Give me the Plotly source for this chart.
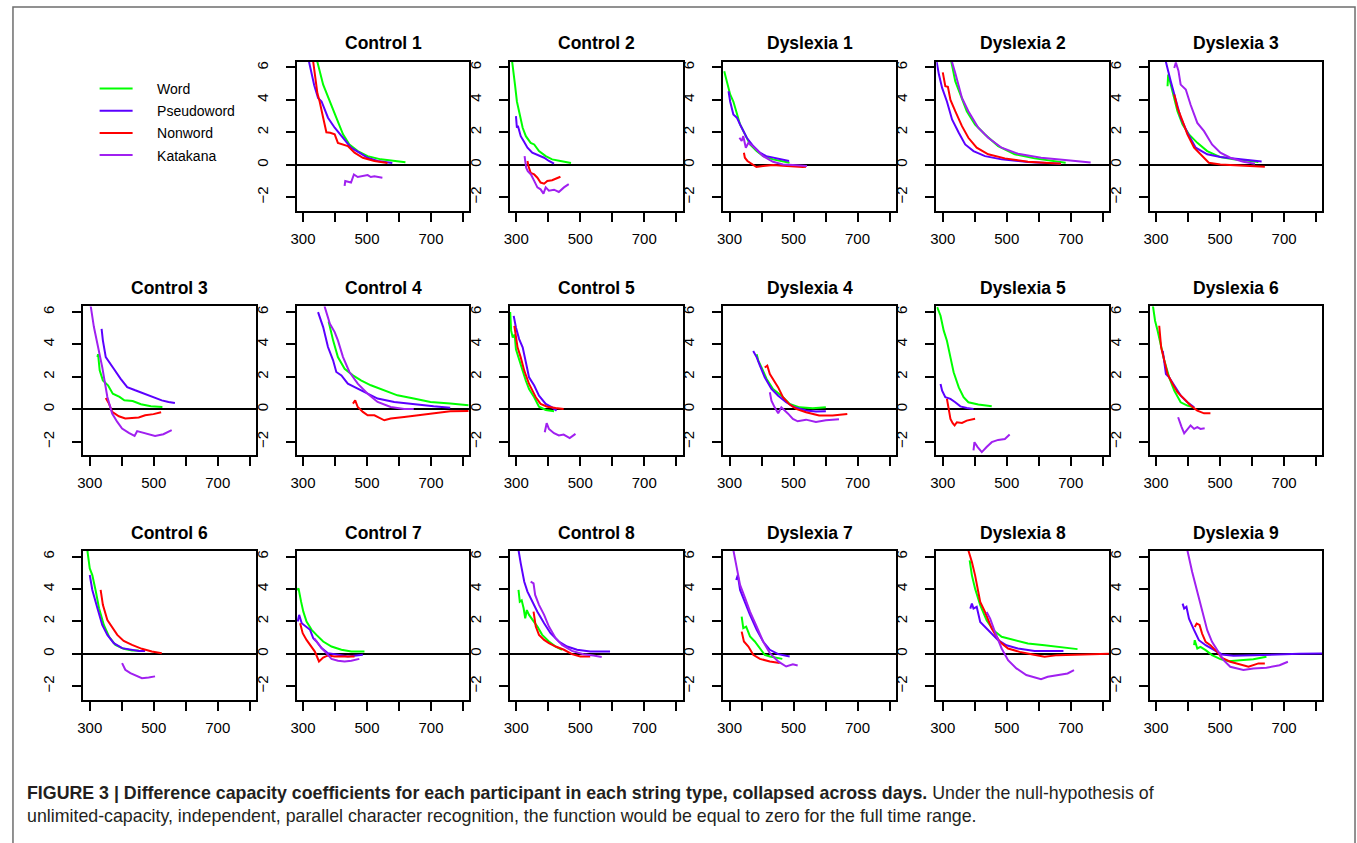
import plotly.graph_objects as go

# ---------------- data ----------------
SERIES = ["Word", "Pseudoword", "Nonword", "Katakana"]
COLORS = {"Word": "#00FF00", "Pseudoword": "#5B00FF", "Nonword": "#FF0000", "Katakana": "#A020F0"}

X_TICKS = [300, 400, 500, 600, 700, 800]
X_TICK_TEXT = ["300", "", "500", "", "700", ""]
Y_TICKS = [-2, 0, 2, 4, 6]
Y_TICK_TEXT = ["\u22122", "0", "2", "4", "6"]

TITLES = ["Control 1", "Control 2", "Dyslexia 1", "Dyslexia 2", "Dyslexia 3",
          "Control 3", "Control 4", "Control 5", "Dyslexia 4", "Dyslexia 5", "Dyslexia 6",
          "Control 6", "Control 7", "Control 8", "Dyslexia 7", "Dyslexia 8", "Dyslexia 9"]
# grid cell (row, col) of every panel
CELLS = [(0, 1), (0, 2), (0, 3), (0, 4), (0, 5),
         (1, 0), (1, 1), (1, 2), (1, 3), (1, 4), (1, 5),
         (2, 0), (2, 1), (2, 2), (2, 3), (2, 4), (2, 5)]

control_1 = {
    "Word": ([340, 345, 363, 383, 404, 425, 445, 471, 502, 543, 585, 620],
             [6.6, 6.33, 4.94, 3.9, 2.9, 1.87, 1.25, 0.84, 0.53, 0.33, 0.23, 0.15]),
    "Pseudoword": ([314, 319, 335, 347, 358, 378, 399, 425, 450, 476, 502, 533, 579],
                   [6.7, 6.33, 4.9, 4.12, 3.9, 2.9, 2.28, 1.66, 1.05, 0.74, 0.43, 0.23, 0.1]),
    "Nonword": ([328, 332, 345, 352, 363, 373, 385, 399, 409, 425, 440, 461, 487, 523, 564],
                [6.7, 6.33, 4.4, 3.9, 2.9, 2.0, 1.97, 1.87, 1.35, 1.25, 1.15, 0.74, 0.43, 0.23, 0.1]),
    "Katakana": ([430, 432, 450, 459, 471, 487, 502, 512, 523, 548],
                 [-1.31, -1.0, -1.1, -0.6, -0.76, -0.7, -0.64, -0.76, -0.72, -0.8]),
}
control_2 = {
    "Word": ([285, 287, 296, 302, 312, 320, 330, 345, 356, 371, 392, 412, 438, 471],
             [6.7, 6.3, 4.94, 3.9, 2.9, 2.28, 1.76, 1.35, 1.25, 0.84, 0.53, 0.33, 0.23, 0.1]),
    "Pseudoword": ([299, 302, 305, 314, 323, 335, 350, 366, 387, 402, 418],
                   [3.0, 2.28, 2.4, 1.76, 1.46, 1.05, 0.74, 0.6, 0.43, 0.23, 0.06]),
    "Nonword": ([335, 338, 345, 356, 366, 376, 387, 397, 412, 423, 438],
                [0.23, -0.08, -0.5, -0.6, -0.8, -1.1, -1.17, -1.0, -0.96, -0.86, -0.74]),
    "Katakana": ([326, 331, 336, 346, 356, 366, 376, 385, 392, 402, 418, 433, 449, 464],
                 [0.53, -0.18, -0.4, -0.6, -1.0, -1.4, -1.52, -1.78, -1.4, -1.6, -1.54, -1.68, -1.4, -1.2]),
}
dyslexia_1 = {
    "Word": ([283.5, 292, 302, 312, 323, 333, 348.5, 364, 384.5, 405, 436, 467, 487.6],
             [5.76, 5.15, 4.33, 3.9, 3.1, 2.48, 1.87, 1.25, 0.84, 0.53, 0.33, 0.18, 0.12]),
    "Pseudoword": ([297, 302, 312, 323, 333, 354, 374, 395, 415, 436, 457, 486],
                   [4.53, 3.9, 3.1, 2.9, 2.48, 1.66, 1.15, 0.74, 0.53, 0.43, 0.33, 0.23]),
    "Nonword": ([345, 348, 356, 369, 384, 405, 436, 467, 498, 529, 539],
                [0.74, 0.43, 0.23, 0.06, -0.14, -0.08, -0.02, -0.06, -0.12, -0.14, -0.12]),
    "Katakana": ([331, 338, 343, 351, 359, 369, 384, 405, 436, 467, 498, 529, 542],
                 [1.66, 1.46, 1.76, 1.05, 1.35, 1.21, 0.94, 0.53, 0.18, 0.02, -0.02, -0.08, -0.08]),
}
dyslexia_2 = {
    "Word": ([324, 327, 339, 355, 375, 401, 432, 473, 525, 587, 638, 684],
             [6.7, 6.33, 5.15, 4.33, 3.3, 2.48, 1.87, 1.15, 0.64, 0.39, 0.27, 0.12]),
    "Pseudoword": ([280, 281, 288, 298, 313, 329, 350, 370, 396, 432, 484, 566, 669],
                   [6.7, 6.33, 5.56, 4.74, 3.9, 2.79, 1.97, 1.25, 0.84, 0.53, 0.33, 0.16, 0.06]),
    "Nonword": ([300, 308, 316, 324, 339, 360, 380, 406, 442, 494, 566, 638, 669],
                [5.7, 4.84, 4.8, 4.0, 3.3, 2.38, 1.66, 1.05, 0.64, 0.39, 0.18, 0.1, 0.06]),
    "Katakana": ([327, 329, 339, 360, 380, 411, 442, 484, 535, 607, 690, 762],
                 [6.7, 6.33, 5.66, 4.12, 3.3, 2.28, 1.66, 1.05, 0.68, 0.43, 0.27, 0.14]),
}
dyslexia_3 = {
    "Word": ([336, 338, 346, 357, 367, 383, 403, 429, 460, 501, 542, 594, 620],
             [4.84, 5.56, 4.94, 4.12, 3.3, 2.48, 1.87, 1.35, 0.84, 0.47, 0.33, 0.23, 0.16]),
    "Pseudoword": ([329, 331, 346, 362, 377, 398, 424, 460, 501, 542, 594, 630],
                   [6.7, 6.33, 5.15, 3.9, 2.9, 1.97, 1.05, 0.64, 0.47, 0.39, 0.27, 0.2]),
    "Nonword": ([357, 367, 383, 398, 419, 444, 465, 501, 542, 594, 640],
                [4.33, 3.5, 2.69, 1.87, 1.05, 0.53, 0.12, 0.02, -0.02, -0.08, -0.12]),
    "Katakana": ([357, 362, 370, 377, 393, 408, 429, 450, 475, 501, 532, 573, 609],
                 [5.97, 6.3, 5.8, 4.94, 4.64, 3.7, 2.58, 2.07, 1.25, 0.74, 0.43, 0.18, 0.06]),
}
control_3 = {
    "Word": ([324, 326, 331, 341, 357, 372, 393, 408, 434, 460, 491, 527],
             [3.22, 3.4, 2.4, 1.78, 1.48, 0.96, 0.76, 0.55, 0.51, 0.31, 0.18, 0.14]),
    "Pseudoword": ([337, 341, 350, 360, 375, 396, 417, 442, 473, 499, 525, 546, 566],
                   [4.96, 4.25, 3.22, 2.9, 2.5, 1.89, 1.37, 1.17, 0.92, 0.72, 0.55, 0.45, 0.39]),
    "Nonword": ([350, 360, 370, 380, 391, 411, 432, 453, 473, 499, 523],
                [0.7, 0.35, -0.16, -0.3, -0.43, -0.57, -0.53, -0.51, -0.37, -0.3, -0.18]),
    "Katakana": ([301, 303, 313, 327, 339, 355, 370, 386, 401, 422, 440, 448, 473, 504, 530, 556],
                 [6.7, 6.36, 5.07, 3.84, 2.6, 0.76, -0.27, -0.78, -1.19, -1.46, -1.64, -1.35, -1.46, -1.64, -1.54, -1.29]),
}
control_4 = {
    "Word": ([380, 394, 409, 430, 456, 481, 512, 554, 595, 646, 698, 760, 817],
             [5.42, 4.25, 3.22, 2.5, 2.09, 1.78, 1.48, 1.17, 0.86, 0.66, 0.45, 0.35, 0.25]),
    "Pseudoword": ([347, 363, 378, 394, 404, 420, 440, 461, 492, 533, 585, 646, 708, 760],
                   [5.99, 5.07, 3.84, 3.02, 2.3, 2.09, 1.58, 1.37, 1.07, 0.66, 0.45, 0.31, 0.18, 0.1]),
    "Nonword": ([456, 463, 471, 487, 502, 523, 554, 574, 616, 657, 708, 760, 817],
                [0.35, 0.55, 0.14, -0.16, -0.37, -0.37, -0.68, -0.57, -0.47, -0.37, -0.23, -0.12, -0.1]),
    "Katakana": ([366, 368, 384, 399, 409, 425, 445, 471, 502, 533, 574, 616, 646],
                 [6.7, 6.3, 5.27, 4.76, 4.25, 3.22, 2.3, 1.58, 0.96, 0.45, 0.14, 0.02, 0.02]),
}
control_5 = {
    "Word": ([281, 284, 289, 295, 299, 309, 320, 330, 340, 356, 371, 392, 418],
             [6.0, 4.85, 4.43, 4.6, 3.7, 3.0, 2.38, 1.76, 1.25, 0.74, 0.16, -0.04, -0.12]),
    "Pseudoword": ([292, 299, 309, 320, 330, 340, 356, 371, 392, 412, 426],
                   [5.76, 5.05, 4.33, 3.82, 2.9, 1.97, 1.46, 0.84, 0.33, 0.12, -0.08]),
    "Nonword": ([294, 304, 314, 325, 340, 361, 376, 397, 423, 448],
                [5.15, 3.82, 3.2, 2.38, 1.56, 0.74, 0.33, 0.16, 0.08, 0.02]),
    "Katakana": ([389, 395, 402, 418, 433, 448, 467, 485],
                 [-1.42, -0.86, -1.21, -1.48, -1.62, -1.56, -1.78, -1.52]),
}
dyslexia_4 = {
    "Word": ([385, 390, 400, 416, 436, 462, 488, 519, 560, 601],
             [3.4, 2.99, 2.58, 1.87, 1.25, 0.84, 0.33, 0.12, 0.06, 0.12]),
    "Pseudoword": ([374, 385, 395, 410, 431, 452, 477, 503, 539, 570, 601],
                   [3.6, 3.2, 2.69, 1.97, 1.25, 0.84, 0.43, 0.12, -0.08, -0.14, -0.12]),
    "Nonword": ([410, 418, 426, 436, 452, 467, 488, 508, 539, 580, 622, 668],
                [2.58, 2.69, 2.17, 1.87, 1.35, 0.74, 0.29, 0.02, -0.18, -0.39, -0.39, -0.29]),
    "Katakana": ([426, 431, 441, 452, 462, 472, 483, 498, 513, 539, 570, 601, 642],
                 [1.05, 0.53, 0.12, -0.25, 0.12, -0.06, -0.27, -0.59, -0.74, -0.64, -0.78, -0.68, -0.62]),
}
dyslexia_5 = {
    "Word": ([282.5, 293, 303, 313, 324, 334, 350, 365, 380, 411, 453],
             [6.3, 5.77, 4.85, 4.23, 3.2, 2.28, 1.35, 0.74, 0.43, 0.29, 0.18]),
    "Pseudoword": ([293, 298, 308, 324, 339, 355, 375, 396],
                   [1.56, 1.15, 0.74, 0.64, 0.43, 0.18, 0.08, 0.02]),
    "Nonword": ([313, 319, 324, 331, 337, 344, 360, 375, 401],
                [0.64, -0.18, -0.59, -0.86, -1.0, -0.8, -0.84, -0.7, -0.59]),
    "Katakana": ([396, 399, 409, 422, 437, 453, 473, 494, 509],
                 [-2.54, -2.03, -2.33, -2.64, -2.33, -2.03, -1.89, -1.83, -1.56]),
}
dyslexia_6 = {
    "Word": ([288, 290, 297, 305, 316, 326, 341, 357, 377, 398, 419],
             [6.7, 6.38, 5.46, 4.84, 3.82, 3.0, 1.97, 1.15, 0.43, 0.23, 0.12]),
    "Pseudoword": ([321, 331, 341, 357, 377, 398, 419],
                   [3.6, 2.17, 1.97, 1.46, 0.84, 0.43, 0.12]),
    "Nonword": ([310, 316, 326, 336, 352, 367, 388, 408, 429, 450, 470],
                [5.15, 3.82, 3.0, 2.17, 1.56, 1.05, 0.64, 0.23, -0.08, -0.25, -0.25]),
    "Katakana": ([369, 372, 380, 388, 398, 408, 419, 429, 439, 452],
                 [-0.49, -0.7, -1.1, -1.48, -1.27, -1.0, -1.21, -1.1, -1.21, -1.17]),
}
control_6 = {
    "Word": ([292, 293, 300, 308, 319, 329, 344, 360, 380, 406, 432, 453],
             [6.7, 6.3, 5.27, 4.86, 3.84, 2.81, 1.78, 1.07, 0.55, 0.31, 0.2, 0.2]),
    "Pseudoword": ([300, 308, 324, 339, 355, 375, 401, 427, 453, 473],
                   [4.86, 3.94, 2.81, 1.78, 1.17, 0.66, 0.35, 0.25, 0.18, 0.18]),
    "Nonword": ([334, 341, 355, 370, 386, 406, 432, 463, 494, 525],
                [3.94, 3.02, 2.09, 1.68, 1.17, 0.8, 0.55, 0.31, 0.14, 0.04]),
    "Katakana": ([401, 411, 427, 448, 463, 484, 504],
                 [-0.57, -0.98, -1.19, -1.39, -1.5, -1.46, -1.39]),
}
control_7 = {
    "Word": ([281.4, 286, 294, 301, 311, 327, 342, 363, 389, 420, 451, 492],
             [3.94, 4.04, 3.22, 2.6, 1.99, 1.48, 1.17, 0.76, 0.45, 0.25, 0.14, 0.14]),
    "Pseudoword": ([283.5, 288, 296, 306, 322, 332, 342, 358, 378, 409, 440, 487],
                   [1.99, 2.4, 1.89, 1.74, 1.48, 0.96, 0.76, 0.35, 0.04, -0.06, -0.16, -0.06]),
    "Nonword": ([291, 299, 311, 322, 337, 350, 363, 378, 399, 430, 461],
                [1.89, 1.27, 0.86, 0.55, 0.14, -0.47, -0.23, -0.1, -0.16, -0.16, -0.16]),
    "Katakana": ([335, 342, 358, 373, 389, 409, 430, 451, 476],
                 [0.96, 0.76, 0.35, 0.04, -0.31, -0.43, -0.47, -0.43, -0.31]),
}
control_8 = {
    "Word": ([307, 311, 317, 323, 328, 333, 340, 351, 366, 381, 402, 423, 443],
             [3.94, 3.22, 3.3, 2.81, 2.19, 2.7, 2.4, 2.09, 1.68, 1.17, 0.76, 0.45, 0.25]),
    "Pseudoword": ([306, 307, 314, 325, 335, 351, 366, 387, 407, 433, 459, 490, 531, 593],
                   [6.7, 6.4, 5.58, 4.45, 3.84, 3.22, 2.6, 1.89, 1.27, 0.76, 0.45, 0.25, 0.14, 0.14]),
    "Nonword": ([354, 361, 371, 387, 402, 423, 449, 474, 500, 531],
                [2.6, 1.68, 1.17, 0.86, 0.66, 0.45, 0.25, -0.02, -0.16, -0.16]),
    "Katakana": ([345, 354, 359, 371, 387, 402, 423, 443, 474, 510, 541, 567],
                 [4.45, 4.35, 3.63, 3.02, 2.4, 1.68, 0.96, 0.55, 0.18, -0.02, -0.1, -0.2]),
}
dyslexia_7 = {
    "Word": ([338, 343, 352, 364, 379, 395, 410, 426, 441, 465],
             [2.3, 1.58, 1.68, 1.07, 0.76, 0.35, -0.06, -0.16, -0.23, -0.31]),
    "Pseudoword": ([321, 326, 333, 349, 364, 385, 405, 426, 452, 488],
                   [4.55, 4.86, 3.94, 3.12, 2.4, 1.48, 0.76, 0.25, -0.02, -0.16]),
    "Nonword": ([338, 345, 359, 374, 395, 426, 457],
                [1.37, 0.76, 0.45, -0.06, -0.31, -0.47, -0.57]),
    "Katakana": ([310, 312, 323, 333, 349, 364, 385, 405, 426, 452, 477, 498, 513],
                 [6.7, 6.4, 5.27, 4.25, 3.43, 2.6, 1.68, 0.76, 0.04, -0.47, -0.78, -0.64, -0.72]),
}
dyslexia_8 = {
    "Word": ([384, 391, 401, 417, 437, 458, 484, 525, 566, 618, 669, 721],
             [5.76, 4.84, 4.02, 3.0, 2.07, 1.46, 1.05, 0.84, 0.64, 0.53, 0.43, 0.29]),
    "Pseudoword": ([386, 391, 396, 406, 417, 432, 453, 473, 499, 535, 587, 638, 677],
                   [2.79, 3.1, 2.79, 2.9, 1.97, 1.66, 1.25, 0.84, 0.53, 0.33, 0.18, 0.18, 0.18]),
    "Nonword": ([378, 380, 391, 401, 417, 432, 453, 478, 504, 540, 581, 618, 659, 710, 762, 819],
                [6.7, 6.38, 5.66, 4.84, 3.2, 2.58, 1.56, 0.74, 0.33, 0.12, -0.04, -0.18, -0.08, -0.04, 0.0, 0.0]),
    "Katakana": ([437, 448, 463, 484, 504, 530, 561, 597, 607, 628, 659, 690, 710],
                 [2.58, 2.17, 1.35, 0.33, -0.39, -0.9, -1.31, -1.52, -1.56, -1.42, -1.31, -1.21, -1.0]),
}
dyslexia_9 = {
    "Word": ([419, 421, 429, 439, 455, 475, 501, 527, 563, 604, 645],
             [0.53, 0.84, 0.33, 0.43, 0.23, -0.08, -0.33, -0.45, -0.39, -0.33, -0.18]),
    "Pseudoword": ([383, 388, 395, 403, 419, 434, 455, 480, 506, 542, 594, 666, 748, 819],
                   [3.1, 2.79, 2.9, 2.17, 1.46, 0.84, 0.53, 0.23, -0.04, -0.12, -0.08, -0.04, 0.0, 0.02]),
    "Nonword": ([421, 427, 436, 444, 455, 470, 491, 506, 532, 563, 589, 620, 640],
                [1.66, 1.87, 1.78, 1.25, 0.74, 0.53, 0.12, -0.25, -0.49, -0.66, -0.8, -0.59, -0.59]),
    "Katakana": ([396, 398, 413, 429, 444, 460, 475, 491, 511, 532, 553, 573, 604, 645, 686, 712],
                 [6.7, 6.38, 5.05, 3.82, 2.58, 1.46, 0.74, 0.23, -0.39, -0.8, -0.9, -1.0, -0.9, -0.86, -0.7, -0.49]),
}

PANELS = [control_1, control_2, dyslexia_1, dyslexia_2, dyslexia_3,
          control_3, control_4, control_5, dyslexia_4, dyslexia_5, dyslexia_6,
          control_6, control_7, control_8, dyslexia_7, dyslexia_8, dyslexia_9]

CAPTION_BOLD = ("FIGURE 3 | Difference capacity coefficients for each participant in each "
                "string type, collapsed across days.")
CAPTION_1 = " Under the null-hypothesis of"
CAPTION_2 = ("unlimited-capacity, independent, parallel character recognition, the function "
             "would be equal to zero for the full time range.")

# ---------------- layout geometry (pixels) ----------------
W, H = 1357, 843
COL_LEFT0, COL_PITCH, BOX_W = 77.7, 214.2, 173.6
ROW_TOP0, ROW_PITCH, BOX_H = 61.0, 244.85, 149.0
FONT = "Liberation Sans, Arial, Helvetica, sans-serif"
LEGEND_PAD = "\u00a0" * 5


def px_x(p):
    return p / W


def px_y(p):
    return 1 - p / H


fig = go.Figure()
layout = dict(
    width=W, height=H, margin=dict(l=0, r=0, t=0, b=0),
    paper_bgcolor="white", plot_bgcolor="white",
    font=dict(family=FONT, color="black"),
    showlegend=True,
    legend=dict(x=px_x(89), y=px_y(72), xanchor="left", yanchor="top",
                font=dict(size=14, family=FONT, color="black"),
                itemwidth=33, tracegroupgap=1, traceorder="grouped",
                bgcolor="rgba(0,0,0,0)", borderwidth=0),
)
annotations = []

for i, (panel, title, (r, c)) in enumerate(zip(PANELS, TITLES, CELLS)):
    n = i + 1
    xs = "x" if n == 1 else f"x{n}"
    ys = "y" if n == 1 else f"y{n}"
    left = COL_LEFT0 + c * COL_PITCH
    top = ROW_TOP0 + r * ROW_PITCH
    layout["xaxis" if n == 1 else f"xaxis{n}"] = dict(
        domain=[px_x(left), px_x(left + BOX_W)], anchor=ys, range=[280, 820],
        showline=True, mirror=True, linecolor="black", linewidth=2,
        ticks="outside", ticklen=9, tickwidth=2, tickcolor="black",
        tickvals=X_TICKS, ticktext=X_TICK_TEXT, showgrid=False, zeroline=False,
        tickfont=dict(size=15, family=FONT, color="black"), ticklabelstandoff=4,
    )
    layout["yaxis" if n == 1 else f"yaxis{n}"] = dict(
        domain=[px_y(top + BOX_H), px_y(top)], anchor=xs, range=[-2.84, 6.34],
        showline=True, mirror=True, linecolor="black", linewidth=2,
        ticks="outside", ticklen=9, tickwidth=2, tickcolor="black",
        tickvals=Y_TICKS, ticktext=Y_TICK_TEXT, tickangle=-90, showgrid=False,
        zeroline=True, zerolinecolor="black", zerolinewidth=2,
        tickfont=dict(size=15, family=FONT, color="black"), ticklabelstandoff=12,
    )
    for s in SERIES:
        x, y = panel[s]
        fig.add_trace(go.Scatter(
            x=x, y=y, mode="lines", name=LEGEND_PAD + s, legendgroup=s,
            showlegend=(i == 0), xaxis=xs, yaxis=ys,
            line=dict(color=COLORS[s], width=2),
        ))
    annotations.append(dict(
        text=f"<b>{title}</b>", x=px_x(left + BOX_W / 2), y=px_y(top - 18.5),
        xref="paper", yref="paper", xanchor="center", yanchor="middle",
        showarrow=False, font=dict(size=17.5, family=FONT, color="black"),
    ))

annotations.append(dict(
    text=f"<b>{CAPTION_BOLD}</b>{CAPTION_1}", x=px_x(19), y=px_y(793),
    xref="paper", yref="paper", xanchor="left", yanchor="middle", showarrow=False,
    font=dict(size=17.8, family=FONT, color="#231f20"),
))
annotations.append(dict(
    text=CAPTION_2, x=px_x(19), y=px_y(816),
    xref="paper", yref="paper", xanchor="left", yanchor="middle", showarrow=False,
    font=dict(size=17.8, family=FONT, color="#231f20"),
))
layout["annotations"] = annotations
layout["shapes"] = [dict(
    type="rect", xref="paper", yref="paper",
    x0=px_x(7), x1=px_x(1355), y0=-0.05, y1=px_y(6),
    line=dict(color="#6e6e6e", width=1.5), fillcolor="rgba(0,0,0,0)",
)]

fig.update_layout(**layout)
fig.write_html(
    "out.html",
    config={"displayModeBar": False},
    post_script="document.body.style.margin='0';document.body.style.overflow='hidden';",
)
